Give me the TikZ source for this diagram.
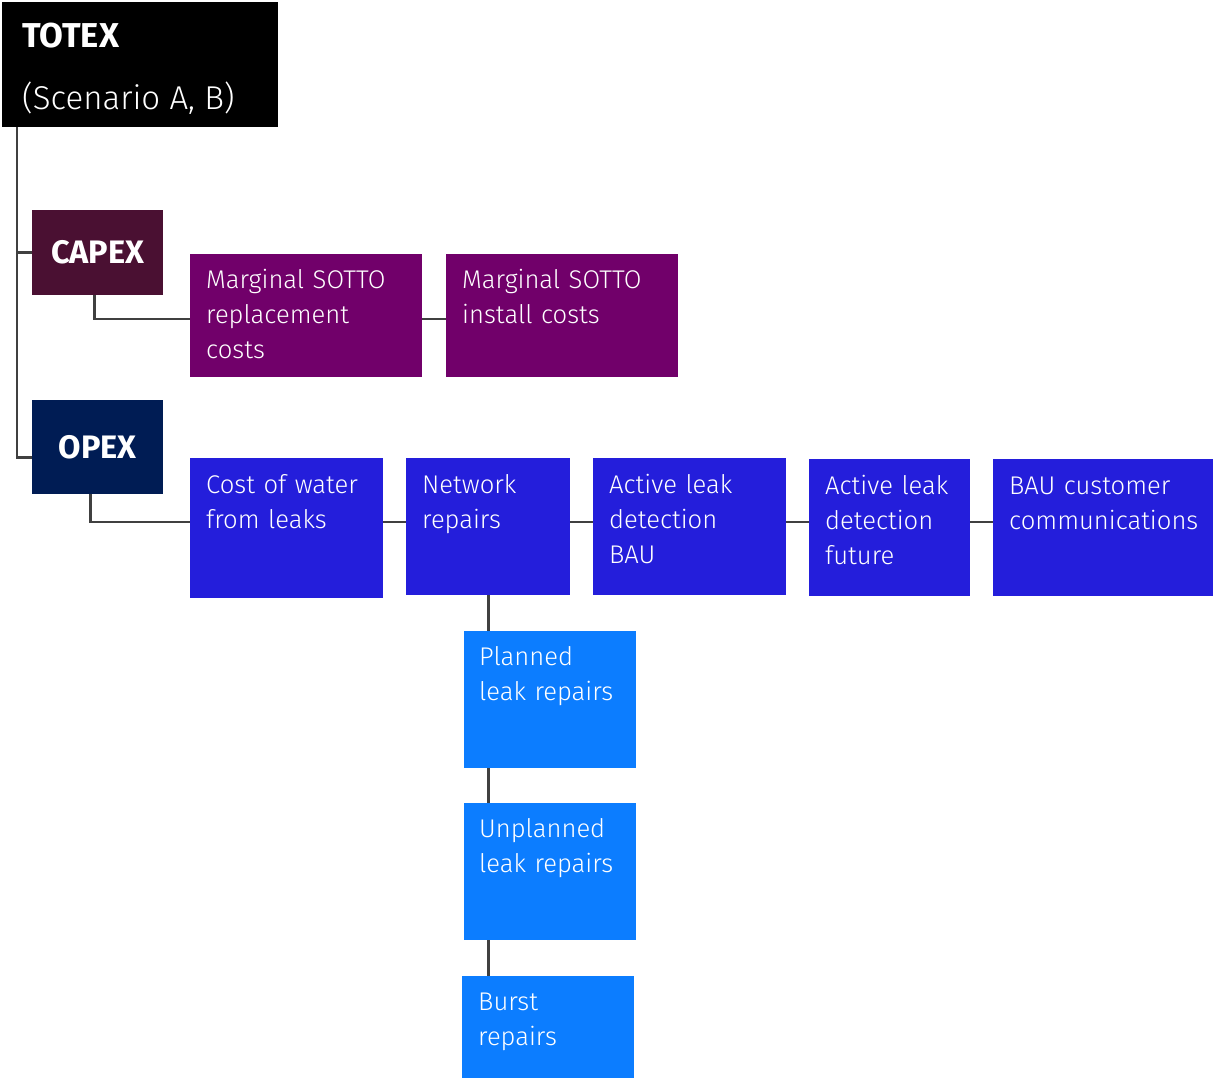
\documentclass[tikz,border=0pt]{standalone}
\usepackage{fontspec}
\setmainfont{Fira Sans Light}[BoldFont={Fira Sans Bold}]
\usetikzlibrary{positioning}

\definecolor{capexred}{RGB}{74,16,50}
\definecolor{sottopurple}{RGB}{113,0,106}
\definecolor{opexnavy}{RGB}{0,28,84}
\definecolor{opexblue}{RGB}{36,30,219}
\definecolor{repairblue}{RGB}{12,125,255}
\definecolor{linegray}{RGB}{64,64,64}

\tikzset{
    box/.style={fill=#1, anchor=north west, inner sep=0pt, text=white},
    head/.style={font=\bfseries\fontsize{32.5}{36}\selectfont, text=white},
    txt/.style={anchor=base west, inner sep=0pt, text=white, align=left,
        text width=230pt, font=\fontsize{25.6}{35}\selectfont},
    conn/.style={draw=linegray, line width=2.6pt}
}

\begin{document}
\begin{tikzpicture}[x=1pt, y=-1pt]
    \useasboundingbox (0,0) rectangle (1213,1079);
    % Top level
    \node[box=black, minimum width=276, minimum height=125] (totex) at (2,2) {};
    \node[head, anchor=base west, inner sep=0pt, font=\bfseries\fontsize{34.5}{36}\selectfont] at (22,47) {TOTEX};
    \node[head, anchor=base west, inner sep=0pt, font=\fontsize{33}{36}\selectfont] at (22,109) {(Scenario A, B)};
    % Cost groups
    \node[box=capexred, minimum width=131, minimum height=85, head] (capex) at (32,210) {CAPEX};
    \node[box=opexnavy, minimum width=131, minimum height=94, head] (opex) at (32,400) {OPEX};
    % CAPEX items
    \node[box=sottopurple, minimum width=232, minimum height=123] (repl) at (190,254) {};
    \node[box=sottopurple, minimum width=232, minimum height=123] (inst) at (446,254) {};
    % OPEX items
    \node[box=opexblue, minimum width=193, minimum height=140] (cost) at (190,458) {};
    \node[box=opexblue, minimum width=164, minimum height=137] (netw) at (406,458) {};
    \node[box=opexblue, minimum width=193, minimum height=137] (albau) at (593,458) {};
    \node[box=opexblue, minimum width=161, minimum height=137] (alfut) at (809,459) {};
    \node[box=opexblue, minimum width=220, minimum height=137] (comms) at (993,459) {};
    % Network repairs breakdown
    \node[box=repairblue, minimum width=172, minimum height=137] (plan) at (464,631) {};
    \node[box=repairblue, minimum width=172, minimum height=137] (unpl) at (464,803) {};
    \node[box=repairblue, minimum width=172, minimum height=102] (burst) at (462,976) {};
    % Texts
    \node[txt] at ([shift={(16pt,-34pt)}]repl.north west) {Marginal SOTTO\\replacement\\costs};
    \node[txt] at ([shift={(16pt,-34pt)}]inst.north west) {Marginal SOTTO\\install costs};
    \node[txt] at ([shift={(16pt,-35pt)}]cost.north west) {Cost of water\\from leaks};
    \node[txt] at ([shift={(16pt,-35pt)}]netw.north west) {Network\\repairs};
    \node[txt] at ([shift={(16pt,-35pt)}]albau.north west) {Active leak\\detection\\BAU};
    \node[txt] at ([shift={(16pt,-35pt)}]alfut.north west) {Active leak\\detection\\future};
    \node[txt] at ([shift={(16pt,-35pt)}]comms.north west) {BAU customer\\communications};
    \node[txt] at ([shift={(15pt,-34pt)}]plan.north west) {Planned\\leak repairs};
    \node[txt] at ([shift={(15pt,-34pt)}]unpl.north west) {Unplanned\\leak repairs};
    \node[txt] at ([shift={(16pt,-34pt)}]burst.north west) {Burst\\repairs};
    % Connectors
    \coordinate (trunk) at (17,127);
    \coordinate (capexrow) at (0,319);
    \coordinate (opexrow) at (0,522);
    \draw[conn] (trunk) |- ([yshift=-10pt]opex.west);
    \draw[conn] (trunk |- capex.west) -- (capex.west);
    \draw[conn] ([xshift=-3pt]capex.south) |- (repl.west |- capexrow);
    \draw[conn] (repl.east |- capexrow) -- (inst.west |- capexrow);
    \draw[conn] ([xshift=-7pt]opex.south) |- (cost.west |- opexrow);
    \foreach \a/\b in {cost/netw, netw/albau, albau/alfut, alfut/comms}
        \draw[conn] (\a.east |- opexrow) -- (\b.west |- opexrow);
    \foreach \a/\b in {netw/plan, plan/unpl, unpl/burst}
        \draw[conn] (netw.south |- \a.south) -- (netw.south |- \b.north);
\end{tikzpicture}
\end{document}
